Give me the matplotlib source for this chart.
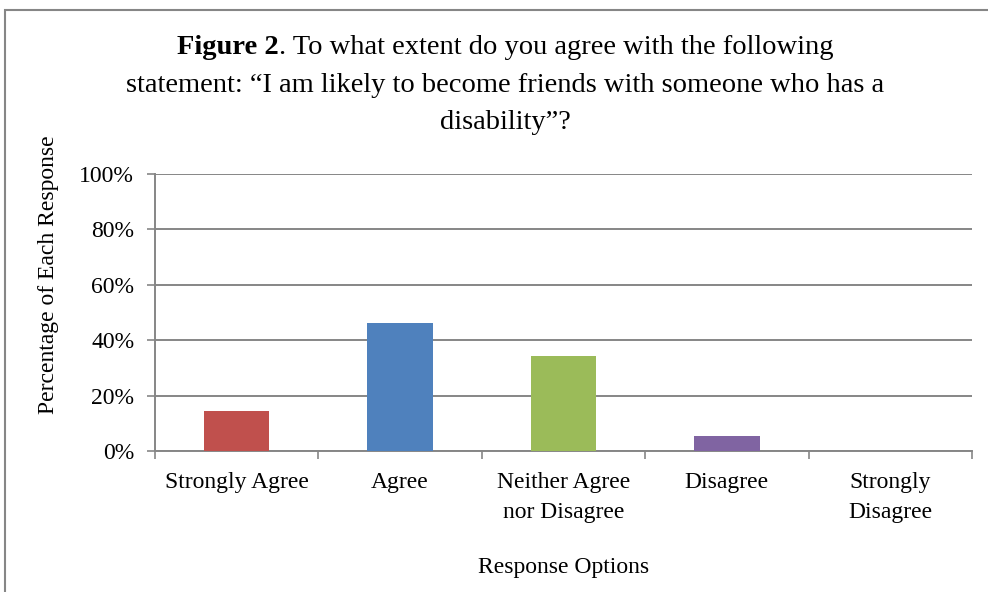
import matplotlib.pyplot as plt
import matplotlib.patches as patches
import numpy as np

plt.rcParams['font.family'] = ['Liberation Serif', 'DejaVu Serif']

# data
categories = ['Strongly Agree', 'Agree', 'Neither Agree\nnor Disagree', 'Disagree', 'Strongly\nDisagree']
values = [14.4, 46.2, 34.3, 5.4, 0.0]
colors = ['#C0504D', '#4F81BD', '#9BBB59', '#8064A2', '#4BACC6']
yticks = [0, 20, 40, 60, 80, 100]

fig = plt.figure(figsize=(9.88, 5.92), dpi=100)
ax = fig.add_axes([155/988, 1-451/592, (972-155)/988, (451-174)/592])

x = np.arange(len(categories))
ax.bar(x, values, width=0.4, color=colors, zorder=3)

ax.set_xlim(-0.5, len(categories)-0.5)
ax.set_ylim(0, 100)
ax.set_yticks(yticks)
ax.set_yticklabels([str(t) + '%' for t in yticks], fontsize=17)
ax.set_xticks(x)
ax.set_xticklabels(categories, fontsize=17, linespacing=1.55)
ax.tick_params(axis='x', length=0, pad=15)
ax.set_xticks(np.arange(-0.5, len(categories)), minor=True)
ax.tick_params(axis='x', which='minor', length=6, color='#868686', width=1.2)
ax.tick_params(axis='y', length=6, color='#868686', width=1.2, pad=9)

ax.grid(axis='y', color='#868686', linewidth=1.4, zorder=0)
for s in ['top', 'right']:
    ax.spines[s].set_visible(False)
for s in ['left', 'bottom']:
    ax.spines[s].set_color('#868686')
    ax.spines[s].set_linewidth(1.4)

ax.set_xlabel('Response Options', fontsize=17)
ax.set_ylabel('Percentage of Each Response', fontsize=17)
ax.xaxis.set_label_coords(0.5, -(567-451)/277)
ax.xaxis.label.set_va('center')
ax.yaxis.set_label_coords(-(155-48)/817, (451-275)/277)
ax.yaxis.label.set_va('center')

# outer frame
fig.patches.append(patches.Rectangle((5/988, -0.05), 1.2, 1-10/592+0.05, transform=fig.transFigure,
                                     fill=False, edgecolor='#868686', linewidth=1.5))

# title with bold "Figure 2"
fs = 20.5
cx = 505/988
fig.canvas.draw()
r = fig.canvas.get_renderer()
t1 = fig.text(0, 1-48/592, 'Figure 2', fontsize=fs, fontweight='bold', va='center')
t2 = fig.text(0, 1-48/592, '. To what extent do you agree with the following', fontsize=fs, va='center')
w1 = t1.get_window_extent(r).width / fig.bbox.width
w2 = t2.get_window_extent(r).width / fig.bbox.width
start = cx - (w1 + w2) / 2
t1.set_x(start)
t2.set_x(start + w1)
fig.text(cx, 1-86/592, 'statement: \u201cI am likely to become friends with someone who has a',
         fontsize=fs, ha='center', va='center')
fig.text(cx, 1-122/592, 'disability\u201d?', fontsize=fs, ha='center', va='center')

fig.savefig('out.png', dpi=100)
